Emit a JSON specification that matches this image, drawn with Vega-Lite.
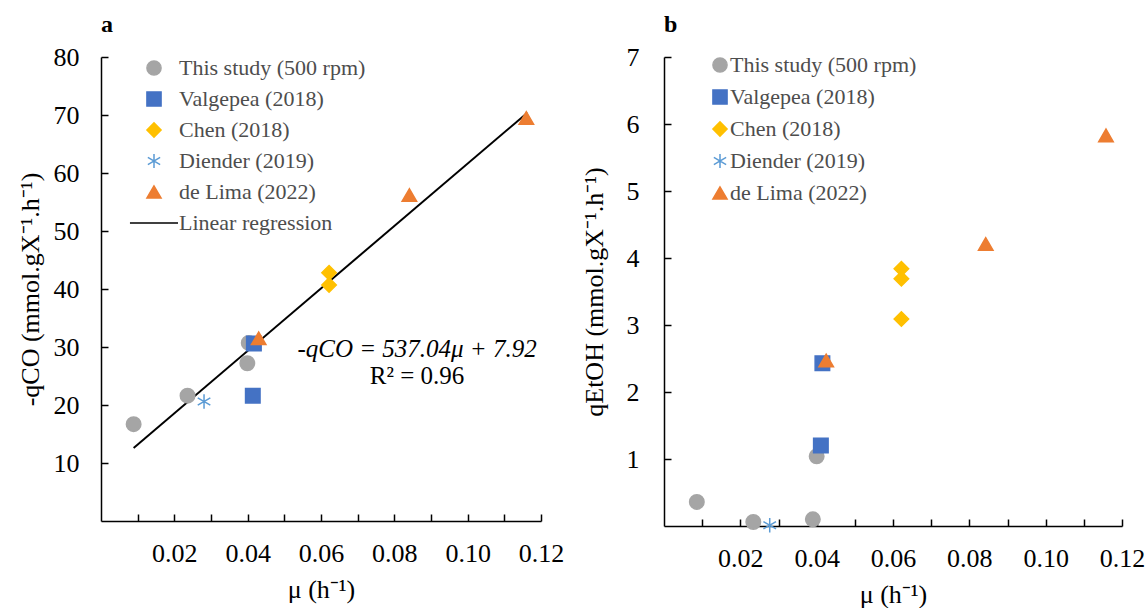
{
  "$schema": "https://vega.github.io/schema/vega-lite/v6.json",
  "background": "white",
  "padding": {"left": 17, "top": 13, "right": 0, "bottom": 5},
  "config": {
    "font": "Liberation Serif",
    "view": {"stroke": null},
    "concat": {"spacing": 17},
    "axis": {
      "grid": false,
      "domainColor": "black", "domainWidth": 1.5,
      "tickColor": "black", "tickWidth": 1.5, "tickSize": -7,
      "labelFont": "Liberation Serif", "labelFontSize": 26, "labelColor": "black",
      "labelOverlap": false, "labelFlush": false, "labelBound": false,
      "titleFont": "Liberation Serif", "titleFontSize": 26, "titleFontWeight": "normal", "titleColor": "black"
    },
    "legend": {
      "labelFont": "Liberation Serif", "labelFontSize": 22, "labelColor": "#4d4d4d",
      "symbolSize": 200, "symbolStrokeWidth": 1.5, "labelLimit": 400, "title": null
    },
    "title": {"font": "Liberation Serif", "fontSize": 24, "fontWeight": "bold", "anchor": "start", "frame": "group", "color": "black"}
  },
  "datasets": {
    "ptsA": [
      {"series": "This study (500 rpm)", "mu": 0.0089, "q": 16.7},
      {"series": "This study (500 rpm)", "mu": 0.0236, "q": 21.6},
      {"series": "This study (500 rpm)", "mu": 0.0399, "q": 27.2},
      {"series": "This study (500 rpm)", "mu": 0.0403, "q": 30.7},
      {"series": "Valgepea (2018)", "mu": 0.0417, "q": 30.6},
      {"series": "Valgepea (2018)", "mu": 0.0414, "q": 21.6},
      {"series": "Chen (2018)", "mu": 0.0622, "q": 42.8},
      {"series": "Chen (2018)", "mu": 0.0622, "q": 40.7},
      {"series": "Diender (2019)", "mu": 0.0281, "q": 20.6},
      {"series": "de Lima (2022)", "mu": 0.043, "q": 31.5},
      {"series": "de Lima (2022)", "mu": 0.0841, "q": 56.2},
      {"series": "de Lima (2022)", "mu": 0.116, "q": 69.5}
    ],
    "reg": [
      {"mu": 0.0089, "q": 12.6},
      {"mu": 0.1163, "q": 70.4}
    ],
    "ptsB": [
      {"series": "This study (500 rpm)", "mu": 0.0086, "q": 0.36},
      {"series": "This study (500 rpm)", "mu": 0.0234, "q": 0.06},
      {"series": "This study (500 rpm)", "mu": 0.039, "q": 0.1},
      {"series": "This study (500 rpm)", "mu": 0.040, "q": 1.04},
      {"series": "Valgepea (2018)", "mu": 0.0415, "q": 2.43},
      {"series": "Valgepea (2018)", "mu": 0.0411, "q": 1.2},
      {"series": "Chen (2018)", "mu": 0.0622, "q": 3.84},
      {"series": "Chen (2018)", "mu": 0.0622, "q": 3.69},
      {"series": "Chen (2018)", "mu": 0.0622, "q": 3.09},
      {"series": "Diender (2019)", "mu": 0.0277, "q": 0.01},
      {"series": "de Lima (2022)", "mu": 0.0425, "q": 2.47},
      {"series": "de Lima (2022)", "mu": 0.0843, "q": 4.21},
      {"series": "de Lima (2022)", "mu": 0.1158, "q": 5.83}
    ],
    "eqA": [
      {"mu": 0.0862, "q": 29.6, "t": "-qCO = 537.04μ + 7.92"}
    ],
    "r2A": [
      {"mu": 0.0862, "q": 25.0, "t": "R² = 0.96"}
    ]
  },
  "hconcat": [
    {
      "width": 440,
      "height": 464,
      "title": {"text": "a", "offset": 7},
      "encoding": {
        "x": {"field": "mu", "type": "quantitative", "scale": {"domain": [0, 0.12], "nice": false},
          "axis": {"title": "μ (h⁻¹)", "values": [0.01,0.02,0.03,0.04,0.05,0.06,0.07,0.08,0.09,0.1,0.11,0.12],
            "labelExpr": "round(datum.value*100) % 2 == 0 ? format(datum.value, '.2f') : ''", "labelPadding": 26, "titlePadding": 10}},
        "y": {"field": "q", "type": "quantitative", "scale": {"domain": [0, 80], "nice": false},
          "axis": {"title": "-qCO (mmol.gX⁻¹.h⁻¹)", "values": [10,20,30,40,50,60,70,80], "labelPadding": 29, "titlePadding": 10}}
      },
      "layer": [
        {
          "data": {"name": "reg"},
          "mark": {"type": "line", "color": "black", "strokeWidth": 2}
        },
        {
          "data": {"name": "ptsA"},
          "mark": {"type": "point", "filled": true, "opacity": 1, "strokeWidth": 1.5, "size": 210},
          "encoding": {
            "color": {"field": "series", "type": "nominal",
              "scale": {"domain": ["This study (500 rpm)", "Valgepea (2018)", "Chen (2018)", "Diender (2019)", "de Lima (2022)", "Linear regression"],
                "range": ["#A5A5A5", "#4472C4", "#FFC000", "#5B9BD5", "#ED7D31", "black"]},
              "legend": {"orient": "none", "legendX": 42, "legendY": 0, "labelOffset": 14, "rowPadding": 9}},
            "stroke": {"field": "series", "type": "nominal",
              "scale": {"domain": ["This study (500 rpm)", "Valgepea (2018)", "Chen (2018)", "Diender (2019)", "de Lima (2022)", "Linear regression"],
                "range": ["#A5A5A5", "#4472C4", "#FFC000", "#5B9BD5", "#ED7D31", "black"]},
              "legend": {"orient": "none", "legendX": 42, "legendY": 0, "labelOffset": 14, "rowPadding": 9}},
            "shape": {"field": "series", "type": "nominal",
              "scale": {"domain": ["This study (500 rpm)", "Valgepea (2018)", "Chen (2018)", "Diender (2019)", "de Lima (2022)", "Linear regression"],
                "range": ["circle", "square", "diamond", "M0,-1L0,1M-0.87,-0.5L0.87,0.5M-0.87,0.5L0.87,-0.5", "triangle-up", "M-3.4,0L3.4,0"]},
              "legend": {"orient": "none", "legendX": 42, "legendY": 0, "labelOffset": 14, "rowPadding": 9}}
          }
        },
        {
          "data": {"name": "eqA"},
          "mark": {"type": "text", "fontStyle": "italic", "fontSize": 25, "font": "Liberation Serif", "color": "black", "align": "center", "baseline": "middle"},
          "encoding": {"text": {"field": "t"}}
        },
        {
          "data": {"name": "r2A"},
          "mark": {"type": "text", "fontSize": 25, "font": "Liberation Serif", "color": "black", "align": "center", "baseline": "middle"},
          "encoding": {"text": {"field": "t"}}
        }
      ],
      "resolve": {"scale": {"color": "shared", "shape": "shared", "stroke": "shared"}}
    },
    {
      "width": 458,
      "height": 469,
      "title": {"text": "b", "offset": 7},
      "data": {"name": "ptsB"},
      "mark": {"type": "point", "filled": true, "opacity": 1, "strokeWidth": 1.5, "size": 210},
      "encoding": {
        "x": {"field": "mu", "type": "quantitative", "scale": {"domain": [0, 0.12], "nice": false},
          "axis": {"title": "μ (h⁻¹)", "values": [0.01,0.02,0.03,0.04,0.05,0.06,0.07,0.08,0.09,0.1,0.11,0.12],
            "labelExpr": "round(datum.value*100) % 2 == 0 ? format(datum.value, '.2f') : ''", "labelPadding": 26, "titlePadding": 10}},
        "y": {"field": "q", "type": "quantitative", "scale": {"domain": [0, 7], "nice": false},
          "axis": {"title": "qEtOH (mmol.gX⁻¹.h⁻¹)", "values": [1,2,3,4,5,6,7], "labelPadding": 32, "titlePadding": 19}},
        "color": {"field": "series", "type": "nominal",
          "scale": {"domain": ["This study (500 rpm)", "Valgepea (2018)", "Chen (2018)", "Diender (2019)", "de Lima (2022)"],
            "range": ["#A5A5A5", "#4472C4", "#FFC000", "#5B9BD5", "#ED7D31"]},
          "legend": {"orient": "none", "legendX": 45, "legendY": -3, "labelOffset": -1, "rowPadding": 10}},
        "stroke": {"field": "series", "type": "nominal",
          "scale": {"domain": ["This study (500 rpm)", "Valgepea (2018)", "Chen (2018)", "Diender (2019)", "de Lima (2022)"],
            "range": ["#A5A5A5", "#4472C4", "#FFC000", "#5B9BD5", "#ED7D31"]},
          "legend": {"orient": "none", "legendX": 45, "legendY": -3, "labelOffset": -1, "rowPadding": 10}},
        "shape": {"field": "series", "type": "nominal",
          "scale": {"domain": ["This study (500 rpm)", "Valgepea (2018)", "Chen (2018)", "Diender (2019)", "de Lima (2022)"],
            "range": ["circle", "square", "diamond", "M0,-1L0,1M-0.87,-0.5L0.87,0.5M-0.87,0.5L0.87,-0.5", "triangle-up"]},
          "legend": {"orient": "none", "legendX": 45, "legendY": -3, "labelOffset": -1, "rowPadding": 10}}
      }
    }
  ],
  "resolve": {
    "scale": {"color": "independent", "shape": "independent", "stroke": "independent", "x": "independent", "y": "independent"},
    "legend": {"color": "independent", "shape": "independent", "stroke": "independent"}
  }
}
